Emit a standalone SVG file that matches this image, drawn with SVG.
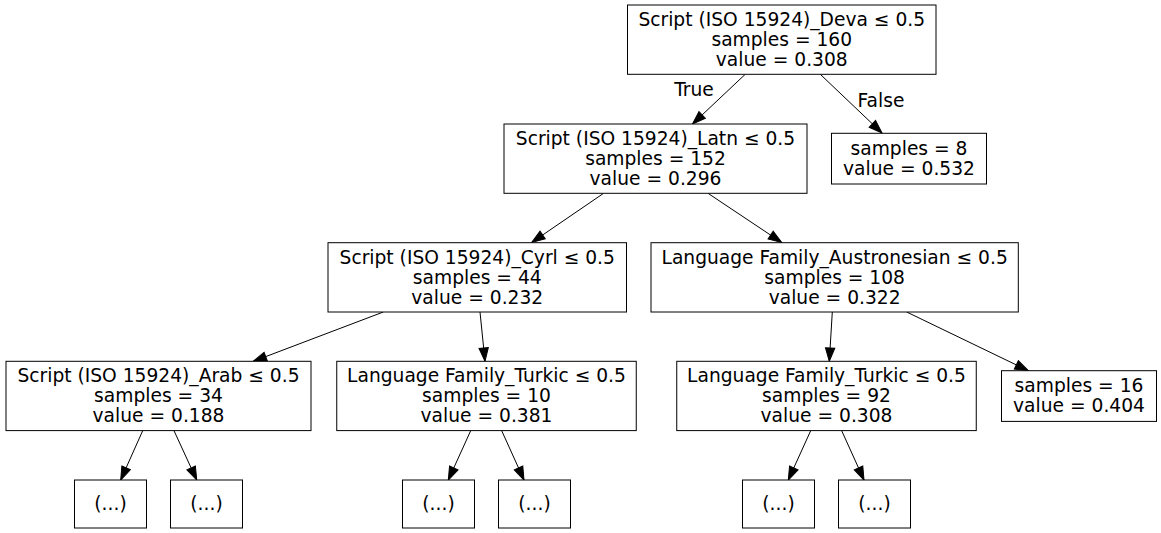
<svg xmlns="http://www.w3.org/2000/svg" width="1161" height="533" viewBox="0 0 1161 533">
<style>
  .box { fill: #ffffff; stroke: #000000; stroke-width: 1; }
  .t { font-family: "DejaVu Sans", "Liberation Sans", sans-serif; font-size: 18.67px; text-anchor: middle; fill: #000000; }
  .edge { stroke: #000000; stroke-width: 1; fill: none; marker-end: url(#arrow); }
</style>
<defs>
  <marker id="arrow" markerUnits="userSpaceOnUse" markerWidth="15" markerHeight="11" refX="13.3" refY="4.67" orient="auto" overflow="visible">
    <path d="M0,0 L13.3,4.67 L0,9.33 Z" fill="#000000" stroke="#000000" stroke-width="1"/>
  </marker>
</defs>
<rect x="0" y="0" width="1161" height="533" fill="#ffffff"/>
<g id="connectors">
  <line class="edge" x1="745" y1="74.5" x2="692.5" y2="124"/>
  <line class="edge" x1="820.5" y1="74.5" x2="882" y2="133"/>
  <line class="edge" x1="603.3" y1="193.5" x2="531.7" y2="242.5"/>
  <line class="edge" x1="708.3" y1="193.5" x2="781.7" y2="242.5"/>
  <line class="edge" x1="383.3" y1="312" x2="253.3" y2="361.3"/>
  <line class="edge" x1="480" y1="312" x2="485" y2="361.3"/>
  <line class="edge" x1="832.3" y1="312" x2="829.3" y2="361.3"/>
  <line class="edge" x1="906.7" y1="312" x2="1028.3" y2="370.7"/>
  <line class="edge" x1="142.7" y1="430.7" x2="120.7" y2="480"/>
  <line class="edge" x1="174" y1="430.7" x2="196.7" y2="480"/>
  <line class="edge" x1="470.7" y1="430.7" x2="448.3" y2="480"/>
  <line class="edge" x1="501.7" y1="430.7" x2="524" y2="480"/>
  <line class="edge" x1="810.7" y1="430.7" x2="788.3" y2="480"/>
  <line class="edge" x1="841.7" y1="430.7" x2="864" y2="480"/>
  <text class="t" x="694" y="95.5">True</text>
  <text class="t" x="881" y="106.5">False</text>
</g>
<g id="node0">
  <rect class="box" x="627.5" y="5" width="308.5" height="69.3"/>
  <text class="t" x="781.75" y="26">Script (ISO 15924)_Deva ≤ 0.5</text>
  <text class="t" x="781.75" y="46">samples = 160</text>
  <text class="t" x="781.75" y="66">value = 0.308</text>
</g>
<g id="node1">
  <rect class="box" x="504" y="124" width="303" height="69.3"/>
  <text class="t" x="655.5" y="145">Script (ISO 15924)_Latn ≤ 0.5</text>
  <text class="t" x="655.5" y="165">samples = 152</text>
  <text class="t" x="655.5" y="185">value = 0.296</text>
</g>
<g id="node2">
  <rect class="box" x="831.5" y="133.3" width="155" height="50.7"/>
  <text class="t" x="909" y="155">samples = 8</text>
  <text class="t" x="909" y="175">value = 0.532</text>
</g>
<g id="node3">
  <rect class="box" x="328" y="242.7" width="298.5" height="69.3"/>
  <text class="t" x="477.25" y="263.6">Script (ISO 15924)_Cyrl ≤ 0.5</text>
  <text class="t" x="477.25" y="283.6">samples = 44</text>
  <text class="t" x="477.25" y="303.6">value = 0.232</text>
</g>
<g id="node4">
  <rect class="box" x="651" y="242.7" width="367.3" height="69.3"/>
  <text class="t" x="834.65" y="263.6">Language Family_Austronesian ≤ 0.5</text>
  <text class="t" x="834.65" y="283.6">samples = 108</text>
  <text class="t" x="834.65" y="303.6">value = 0.322</text>
</g>
<g id="node5">
  <rect class="box" x="6" y="361.3" width="305" height="69.3"/>
  <text class="t" x="158.5" y="382.3">Script (ISO 15924)_Arab ≤ 0.5</text>
  <text class="t" x="158.5" y="402.3">samples = 34</text>
  <text class="t" x="158.5" y="422.3">value = 0.188</text>
</g>
<g id="node6">
  <rect class="box" x="336.75" y="361.3" width="299.5" height="69.3"/>
  <text class="t" x="486.5" y="382.3">Language Family_Turkic ≤ 0.5</text>
  <text class="t" x="486.5" y="402.3">samples = 10</text>
  <text class="t" x="486.5" y="422.3">value = 0.381</text>
</g>
<g id="node7">
  <rect class="box" x="676.75" y="361.3" width="299.5" height="69.3"/>
  <text class="t" x="826.5" y="382.3">Language Family_Turkic ≤ 0.5</text>
  <text class="t" x="826.5" y="402.3">samples = 92</text>
  <text class="t" x="826.5" y="422.3">value = 0.308</text>
</g>
<g id="node8">
  <rect class="box" x="1001.5" y="370.7" width="155" height="50.7"/>
  <text class="t" x="1079" y="392.3">samples = 16</text>
  <text class="t" x="1079" y="412.3">value = 0.404</text>
</g>
<g id="node9">
  <rect class="box" x="74.5" y="480" width="72" height="48"/>
  <text class="t" x="110.5" y="510.3">(...)</text>
</g>
<g id="node10">
  <rect class="box" x="170.5" y="480" width="72" height="48"/>
  <text class="t" x="206.5" y="510.3">(...)</text>
</g>
<g id="node11">
  <rect class="box" x="402.5" y="480" width="72" height="48"/>
  <text class="t" x="438.5" y="510.3">(...)</text>
</g>
<g id="node12">
  <rect class="box" x="498.5" y="480" width="72" height="48"/>
  <text class="t" x="534.5" y="510.3">(...)</text>
</g>
<g id="node13">
  <rect class="box" x="742.5" y="480" width="72" height="48"/>
  <text class="t" x="778.5" y="510.3">(...)</text>
</g>
<g id="node14">
  <rect class="box" x="838.5" y="480" width="72" height="48"/>
  <text class="t" x="874.5" y="510.3">(...)</text>
</g>
</svg>
